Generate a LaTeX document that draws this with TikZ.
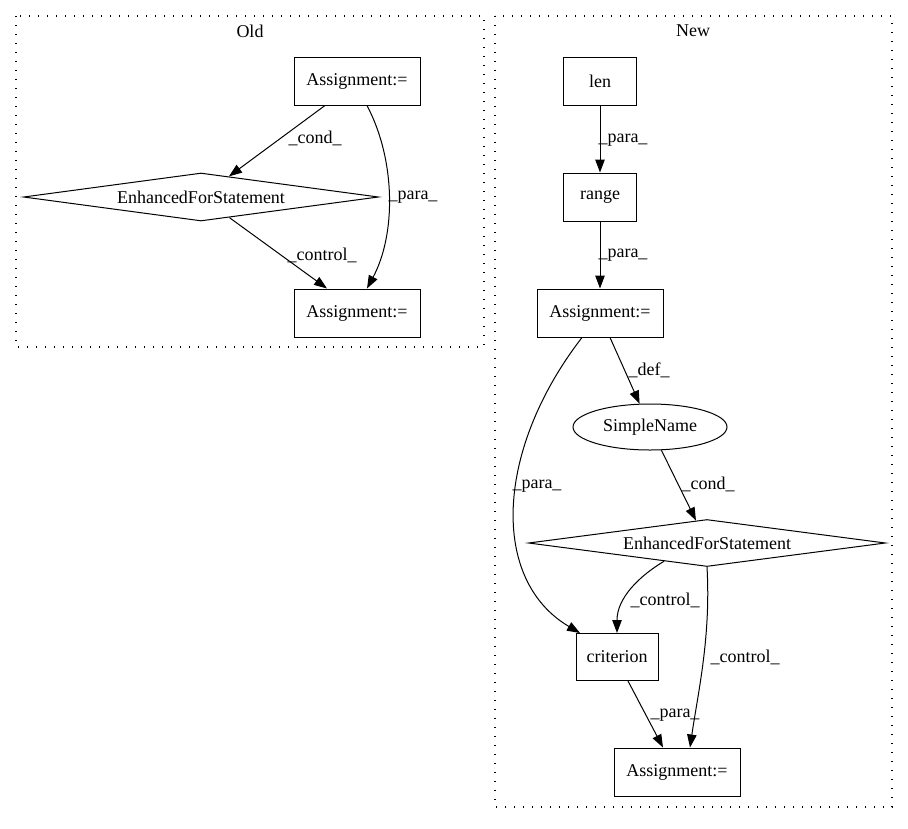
\documentclass[tikz,border=0pt]{standalone}
\usepackage{fontspec}
\setmainfont{Liberation Serif}
\usetikzlibrary{shapes.geometric,arrows.meta}
\begin{document}
\begin{tikzpicture}[x=1pt,y=-1pt,
  every node/.style={font=\fontsize{18}{21}\selectfont},
  box/.style={draw,line width=1pt,rectangle,inner sep=0pt},
  dia/.style={draw,line width=1pt,diamond,inner sep=0pt,shape aspect=7.4},
  ell/.style={draw,line width=1pt,ellipse,inner sep=0pt,minimum width=154pt,minimum height=46pt},
  edge/.style={draw,line width=1pt,-{Triangle[length=13pt,width=9.5pt]}},
  lbl/.style={inner sep=0pt},
  cluster/.style={draw,line width=1.1pt,dash pattern=on 1.2pt off 7.8pt}]
\useasboundingbox (0,0) rectangle (908,828);
% clusters
\draw[cluster] (16,16) rectangle (484,347);
\node[lbl] (oldt) at (250,31) {Old};
\draw[cluster] (495,16) rectangle (892,807);
\node[lbl] (newt) at (693,31) {New};
% Old nodes
\node[box,minimum width=126pt,minimum height=48pt] (oa1) at (357,81) {Assignment:=};
\node[dia,minimum width=355pt,minimum height=48pt] (od) at (201,197) {EnhancedForStatement};
\node[box,minimum width=126pt,minimum height=48pt] (oa2) at (357,313) {Assignment:=};
% Old edges
\draw[edge] ([xshift=-32pt]oa1.south) -- (od) node[lbl] at (315,138) {\_cond\_};
\draw[edge] ([xshift=10pt]oa1.south) .. controls +(29,55) and +(29,-54) .. ([xshift=10pt]oa2.north) node[lbl] at (413,197) {\_para\_};
\draw[edge] (od) -- ([xshift=-30pt]oa2.north) node[lbl] at (322,255) {\_control\_};
% New nodes
\node[box,minimum width=73pt,minimum height=48pt] (len) at (600,81) {len};
\node[box,minimum width=73pt,minimum height=48pt] (rng) at (600,197) {range};
\node[box,minimum width=126pt,minimum height=48pt] (na1) at (600,313) {Assignment:=};
\node[ell] (sn) at (650,427) {SimpleName};
\node[dia,minimum width=357pt,minimum height=47pt] (nd) at (707,543) {EnhancedForStatement};
\node[box,minimum width=82pt,minimum height=47pt] (crit) at (617,657) {criterion};
\node[box,minimum width=126pt,minimum height=48pt] (na2) at (677,772) {Assignment:=};
% New edges
\draw[edge] (len) -- (rng) node[lbl] at (623,140) {\_para\_};
\draw[edge] (rng) -- (na1) node[lbl] at (623,255) {\_para\_};
\draw[edge] ([xshift=10pt]na1.south) -- (sn) node[lbl] at (649,370) {\_def\_};
\draw[edge] (sn) -- (nd) node[lbl] at (708,484) {\_cond\_};
\draw[edge] ([xshift=-18pt]na1.south) .. controls (495,450) and (490,580) .. ([xshift=-37pt]crit.north) node[lbl] at (537,486) {\_para\_};
\draw[edge] (nd.203) .. controls +(-25,15) and +(0,-35) .. (crit.north) node[lbl] at (665,600) {\_control\_};
\draw[edge] (nd.south) .. controls +(4,70) and +(8,-55) .. ([xshift=13pt]na2.north) node[lbl] at (745,657) {\_control\_};
\draw[edge] ([xshift=11pt]crit.south) -- ([xshift=-14pt]na2.north) node[lbl] at (675,715) {\_para\_};
\end{tikzpicture}
\end{document}
